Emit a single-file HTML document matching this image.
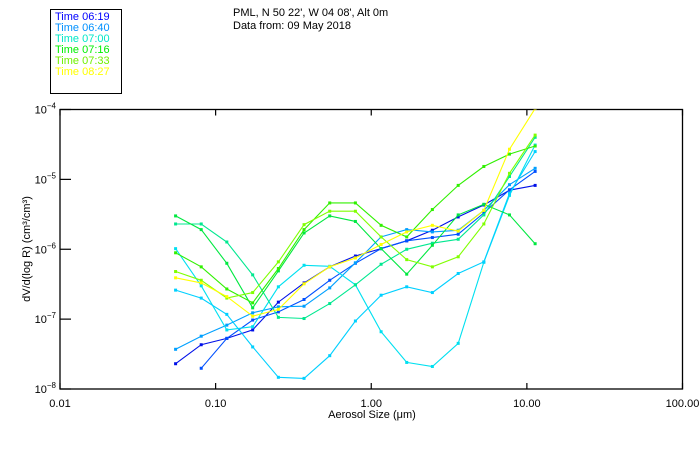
<!DOCTYPE html>
<html><head><meta charset="utf-8">
<style>
html,body{margin:0;padding:0;background:#fff;}
svg{display:block;font-family:"Liberation Sans","DejaVu Sans",sans-serif;}
</style></head>
<body>
<svg id="chart" width="700" height="450" viewBox="0 0 700 450" xmlns="http://www.w3.org/2000/svg">
  <rect x="0" y="0" width="700" height="450" fill="#fff"/>
  <g>
    <rect x="50.5" y="9.5" width="71" height="84" fill="none" stroke="#000" stroke-width="1"/>
    <text x="55" y="20" font-size="11" fill="#0000ff">Time 06:19</text>
    <text x="55" y="31" font-size="11" fill="#0090ff">Time 06:40</text>
    <text x="55" y="42" font-size="11" fill="#00e8c8">Time 07:00</text>
    <text x="55" y="53" font-size="11" fill="#00f000">Time 07:16</text>
    <text x="55" y="64" font-size="11" fill="#70f000">Time 07:33</text>
    <text x="55" y="75" font-size="11" fill="#ffff00">Time 08:27</text>
  </g>
  <text x="233" y="16" font-size="11" fill="#000">PML, N 50 22', W 04 08', Alt 0m</text>
  <text x="233" y="29" font-size="11" fill="#000">Data from: 09 May 2018</text>
  <text transform="translate(30,249) rotate(-90)" text-anchor="middle" font-size="11" fill="#000">dV/d(log R)  (cm³/cm³)</text>
  <text x="372" y="418" text-anchor="middle" font-size="11" fill="#000">Aerosol Size (μm)</text>
  <g id="axes"></g>
  <g id="series"></g>
</svg>
<script>
const sizes = [0.0553,0.0808,0.118,0.173,0.253,0.370,0.541,0.791,1.157,1.69,2.47,3.62,5.29,7.73,11.3];
const xTicks = [0.01,0.1,1,10,100];
const xTickLabels = ["0.01","0.10","1.00","10.00","100.00"];
const yTickExps = [-8,-7,-6,-5,-4];
const seriesNames = ["s1","s2","s3","s4","s5","s6","s7","s8","s9","s10"];
const seriesColors = ["#0010e8","#0050ff","#00a0ff","#00e0f0","#00d0ff","#00e890","#00e840","#30f000","#80ff00","#ffff00"];
const s1 = [2.3e-8,4.3e-8,5.3e-8,7.0e-8,1.75e-7,3.3e-7,5.6e-7,8.0e-7,1.02e-6,1.32e-6,1.87e-6,2.9e-6,4.3e-6,7.0e-6,8.2e-6];
const s2 = [null,1.98e-8,5.3e-8,9.7e-8,1.27e-7,1.91e-7,3.6e-7,6.3e-7,1.02e-6,1.32e-6,1.47e-6,1.64e-6,3.3e-6,7.1e-6,1.3e-5];
const s3 = [3.7e-8,5.7e-8,8.2e-8,1.23e-7,1.5e-7,1.53e-7,2.8e-7,6.4e-7,1.5e-6,1.91e-6,1.77e-6,1.87e-6,3.6e-6,8.4e-6,1.44e-5];
const s4 = [1.02e-6,3.0e-7,7.0e-8,7.8e-8,2.9e-7,5.9e-7,5.7e-7,3.1e-7,6.6e-8,2.4e-8,2.1e-8,4.5e-8,6.5e-7,5.9e-6,3.1e-5];
const s5 = [2.6e-7,2.0e-7,1.17e-7,4.0e-8,1.47e-8,1.42e-8,3.0e-8,9.4e-8,2.2e-7,2.9e-7,2.4e-7,4.5e-7,6.6e-7,6.3e-6,2.5e-5];
const s6 = [2.3e-6,2.3e-6,1.27e-6,4.3e-7,1.06e-7,1.02e-7,1.67e-7,3.1e-7,6.1e-7,1.0e-6,1.22e-6,1.39e-6,3.1e-6,1.1e-5,4.0e-5];
const s7 = [3.0e-6,1.91e-6,6.3e-7,1.45e-7,4.9e-7,1.71e-6,3.0e-6,2.5e-6,1.02e-6,4.4e-7,1.14e-6,3.1e-6,4.4e-6,3.1e-6,1.2e-6];
const s8 = [8.9e-7,5.6e-7,2.7e-7,1.71e-7,5.3e-7,1.91e-6,4.6e-6,4.6e-6,2.2e-6,1.5e-6,3.7e-6,8.2e-6,1.53e-5,2.3e-5,3.0e-5];
const s9 = [4.8e-7,3.6e-7,2.0e-7,2.4e-7,6.6e-7,2.25e-6,3.5e-6,3.5e-6,1.5e-6,7.1e-7,5.6e-7,7.8e-7,2.3e-6,1.22e-5,4.3e-5];
const s10 = [3.9e-7,3.3e-7,2.1e-7,1.1e-7,1.38e-7,3.2e-7,5.6e-7,7.5e-7,1.17e-6,1.77e-6,2.2e-6,1.82e-6,3.6e-6,2.7e-5,1.03e-4];
const allSeries = [s1,s2,s3,s4,s5,s6,s7,s8,s9,s10];

const NS = "http://www.w3.org/2000/svg";
const L = 60, R = 682.5, T = 109.5, B = 389;
function xScale(v){ return L + (Math.log10(v) + 2) / 4 * (R - L); }
function yScale(v){ return B - (Math.log10(v) + 8) / 4 * (B - T); }
function mk(tag, attrs){ const e = document.createElementNS(NS, tag); for (const k in attrs) e.setAttribute(k, attrs[k]); return e; }

const axes = document.getElementById('axes');
const frame = mk('rect', {x:L, y:T, width:R-L, height:B-T, fill:'none', stroke:'#000', 'stroke-width':1.3});


axes.appendChild(frame);
xTicks.forEach((t, i) => {
  const x = xScale(t);
  const tb = mk('line', {x1:x, x2:x, y1:B, y2:B-6, stroke:'#000', 'stroke-width':1.2});
  
  
  axes.appendChild(tb);
  const tt = mk('line', {x1:x, x2:x, y1:T, y2:T+6, stroke:'#000', 'stroke-width':1.2});
  
  
  axes.appendChild(tt);
  const lb = mk('text', {x:x, y:B+18, 'text-anchor':'middle', 'font-size':11, fill:'#000'});
  lb.textContent = xTickLabels[i];
  
  
  axes.appendChild(lb);
});
yTickExps.forEach(e => {
  const y = yScale(Math.pow(10, e));
  const tl = mk('line', {x1:L, x2:L+11, y1:y, y2:y, stroke:'#000', 'stroke-width':1.2});
  
  
  axes.appendChild(tl);
  const lb = mk('text', {x:L-4, y:y+4, 'text-anchor':'end', 'font-size':11, fill:'#000'});
  
  
  lb.appendChild(document.createTextNode('10'));
  const sup = mk('tspan', {dy:-5, 'font-size':8});
  sup.textContent = String(e).replace('-', '−');
  lb.appendChild(sup);
  axes.appendChild(lb);
});

const sg = document.getElementById('series');
const clip = mk('clipPath', {id:'pc'});
clip.appendChild(mk('rect', {x:L, y:T, width:R-L, height:B-T}));
sg.appendChild(clip);
allSeries.forEach((vals, si) => {
  const g = mk('g', {'clip-path':'url(#pc)'});
  
  
  const pts = [];
  vals.forEach((v, i) => { if (v != null) pts.push([xScale(sizes[i]), yScale(v)]); });
  const pl = mk('polyline', {points: pts.map(p => p[0].toFixed(1) + ',' + p[1].toFixed(1)).join(' '), fill:'none', stroke:seriesColors[si], 'stroke-width':1.1});
  
  
  g.appendChild(pl);
  pts.forEach(p => {
    const m = mk('rect', {x:p[0]-1.5, y:p[1]-1.5, width:3, height:3, fill:seriesColors[si]});
    
    
    g.appendChild(m);
  });
  sg.appendChild(g);
});
</script>
</body></html>
